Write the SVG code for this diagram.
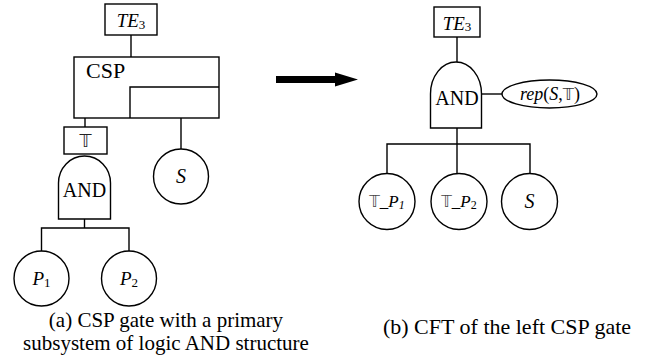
<svg xmlns="http://www.w3.org/2000/svg" width="649" height="364" viewBox="0 0 649 364">
<style>
.s{fill:none;stroke:#000;stroke-width:1.4}
.n{fill:#fff;stroke:#000;stroke-width:1.4}
.i{font-style:italic}
.ds{font-family:'DejaVu Sans',sans-serif;font-style:normal}
.c{font-size:21px}
</style>
<rect width="649" height="364" fill="#fff"/>
<g id="connectors" class="s">
<line x1="131" y1="35" x2="131" y2="57"/>
<line x1="85" y1="118" x2="85" y2="127"/>
<line x1="181" y1="118" x2="181" y2="149"/>
<polyline points="41.5,251 41.5,228 129,228 129,251"/>
<line x1="84.5" y1="219" x2="84.5" y2="228"/>
<line x1="457" y1="37" x2="457" y2="62"/>
<line x1="482" y1="94" x2="502" y2="94"/>
<line x1="457" y1="128" x2="457" y2="173"/>
<polyline points="387,173.5 387,144 530,144 530,173.5"/>
</g>
<g id="arrow"><path d="M276,76 L335,76 L335,72.5 L358,79.5 L335,86.5 L335,83 L276,83 Z" fill="#000"/></g>
<g font-family="Liberation Serif, Times New Roman, serif">
<g id="TE3_left">
<rect class="n" x="105" y="4" width="52" height="31"/>
<text x="131" y="27" text-anchor="middle" font-size="19"><tspan class="i">TE</tspan><tspan font-size="13" dy="2">3</tspan></text>
</g>
<g id="CSP">
<rect class="n" x="74" y="57" width="145" height="61"/>
<polyline class="s" points="130,118 130,87 219,87"/>
<text x="86" y="78" font-size="22">CSP</text>
</g>
<g id="T_box">
<rect class="n" x="64" y="127" width="43" height="27"/>
<text x="85.5" y="147" text-anchor="middle" font-size="17" class="ds" fill="#222">𝕋</text>
</g>
<g id="AND_left">
<path class="n" d="M58.5,219 L58.5,183 A26,27 0 0 1 110.5,183 L110.5,219 Z"/>
<text x="84.5" y="197" text-anchor="middle" font-size="20">AND</text>
</g>
<g id="S_left">
<circle class="n" cx="181" cy="176.5" r="27.5"/>
<text x="181" y="183" text-anchor="middle" font-size="20" class="i">S</text>
</g>
<g id="P1">
<circle class="n" cx="41.5" cy="278.5" r="27.5"/>
<text x="41.5" y="285" text-anchor="middle" font-size="19"><tspan class="i">P</tspan><tspan font-size="13" dy="2">1</tspan></text>
</g>
<g id="P2">
<circle class="n" cx="129" cy="278.5" r="27.5"/>
<text x="129" y="285" text-anchor="middle" font-size="19"><tspan class="i">P</tspan><tspan font-size="13" dy="2">2</tspan></text>
</g>
<g id="TE3_right">
<rect class="n" x="434" y="7" width="46" height="30"/>
<text x="457" y="29.5" text-anchor="middle" font-size="19"><tspan class="i">TE</tspan><tspan font-size="13" dy="1">3</tspan></text>
</g>
<g id="AND_right">
<path class="n" d="M430.5,128 L430.5,94 A25.5,32 0 0 1 481.5,94 L481.5,128 Z"/>
<text x="457" y="105" text-anchor="middle" font-size="20">AND</text>
</g>
<g id="rep">
<ellipse class="n" cx="549.5" cy="94" rx="47.5" ry="14"/>
<text x="550" y="99.5" text-anchor="middle" font-size="18"><tspan class="i">rep</tspan>(<tspan class="i">S</tspan>,<tspan class="ds" font-size="16" fill="#333">𝕋</tspan>)</text>
</g>
<g id="T_P1">
<circle class="n" cx="387" cy="201.5" r="28"/>
<text x="387" y="207" text-anchor="middle" font-size="17"><tspan class="ds" font-size="15" fill="#444">𝕋</tspan>_<tspan class="i">P</tspan><tspan class="i" font-size="12" dy="2">1</tspan></text>
</g>
<g id="T_P2">
<circle class="n" cx="459" cy="201.5" r="28"/>
<text x="459" y="207" text-anchor="middle" font-size="17"><tspan class="ds" font-size="15" fill="#444">𝕋</tspan>_<tspan class="i">P</tspan><tspan font-size="12" dy="2">2</tspan></text>
</g>
<g id="S_right">
<circle class="n" cx="529.5" cy="201.5" r="28"/>
<text x="529.5" y="208" text-anchor="middle" font-size="20" class="i">S</text>
</g>
<g id="captions">
<text class="c" x="166" y="327" text-anchor="middle">(a) CSP gate with a primary</text>
<text class="c" x="166" y="350" text-anchor="middle">subsystem of logic AND structure</text>
<text x="507" y="334" text-anchor="middle" font-size="22">(b) CFT of the left CSP gate</text>
</g>
</g>
</svg>
